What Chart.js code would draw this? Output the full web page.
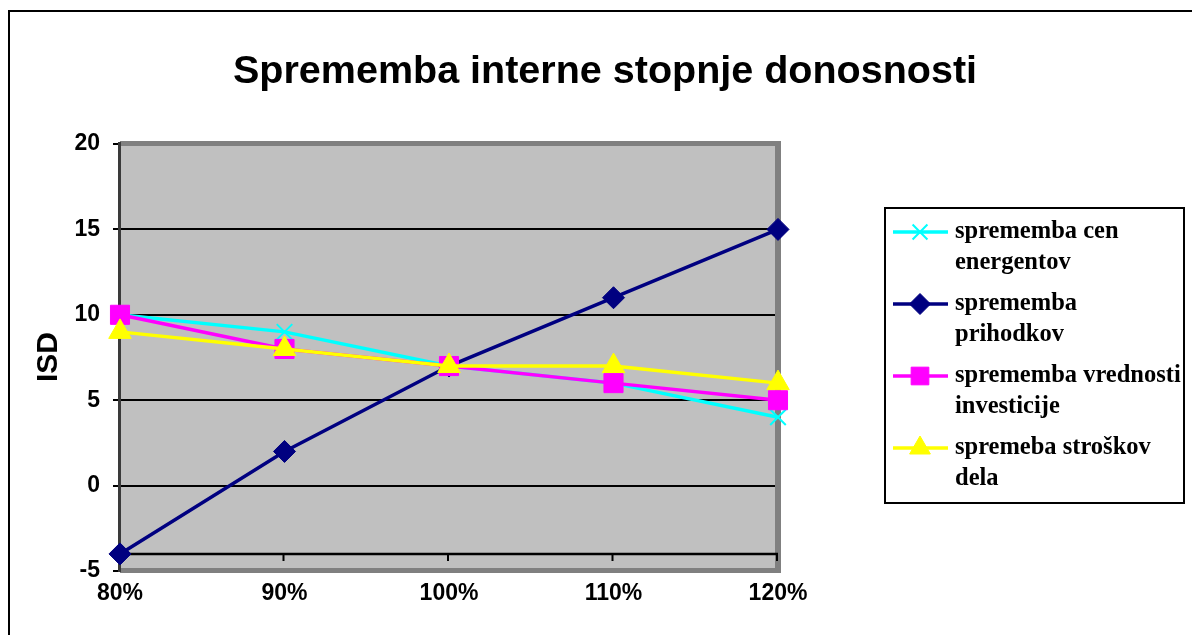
<!DOCTYPE html>
<html>
<head>
<meta charset="utf-8">
<script src="https://cdn.jsdelivr.net/npm/chart.js@4/dist/chart.umd.min.js"></script>
<style>
  html, body { margin: 0; padding: 0; background: #ffffff; }
  #wrap { width: 1192px; height: 635px; position: relative; }
</style>
</head>
<body>
<div id="wrap"><canvas id="c" width="1192" height="635"></canvas></div>
<script>
// Categories (x axis) and series values
const categories = ['80%', '90%', '100%', '110%', '120%'];
const energentiValues = [10, 9, 7, 6, 4];
const prihodkiValues = [-4, 2, 7, 11, 15];
const investicijeValues = [10, 8, 7, 6, 5];
const delaValues = [9, 8, 7, 7, 6];

// Value axis range and tick labels
const yMin = -5;
const yMax = 20;
const yStep = 5;
const xAxisCrossing = -4;

const titleText = 'Sprememba interne stopnje donosnosti';
const yAxisTitle = 'ISD';
const legendLabels = [
  ['sprememba cen', 'energentov'],
  ['sprememba', 'prihodkov'],
  ['sprememba vrednosti', 'investicije'],
  ['spremeba stroškov', 'dela']
];

const SANS = '"Liberation Sans", Arial, sans-serif';
const SERIF = '"Liberation Serif", "Times New Roman", serif';

const seriesStyles = [
  { color: '#00FFFF', pointStyle: 'crossRot', radius: 11, pointBorderWidth: 2, order: 4 },
  { color: '#000080', pointStyle: 'rectRot', radius: 11, pointBorderWidth: 1, order: 3 },
  { color: '#FF00FF', pointStyle: 'rect', radius: 13.5, pointBorderWidth: 1, order: 2 },
  { color: '#FFFF00', pointStyle: 'triangle', radius: 13, pointBorderWidth: 1, order: 1 }
];
const seriesData = [energentiValues, prihodkiValues, investicijeValues, delaValues];

const datasets = seriesData.map((vals, i) => {
  const s = seriesStyles[i];
  return {
    label: legendLabels[i].join(' '),
    data: vals,
    borderColor: s.color,
    backgroundColor: s.color,
    pointBackgroundColor: s.color,
    pointBorderColor: s.color,
    pointBorderWidth: s.pointBorderWidth,
    pointStyle: s.pointStyle,
    pointRadius: s.radius,
    pointHoverRadius: s.radius,
    borderWidth: 3.5,
    tension: 0,
    fill: false,
    clip: false,
    order: s.order
  };
});

// Plot background, 3D-style plot border, horizontal axis line, title, legend
const decorations = {
  id: 'decorations',
  beforeDraw(chart) {
    const ctx = chart.ctx;
    const ca = chart.chartArea;
    ctx.save();
    ctx.fillStyle = '#ffffff';
    ctx.fillRect(0, 0, chart.width, chart.height);
    ctx.fillStyle = '#C0C0C0';
    ctx.fillRect(ca.left, ca.top, ca.right - ca.left, ca.bottom - ca.top);
    ctx.restore();
  },
  beforeDatasetsDraw(chart) {
    const ctx = chart.ctx;
    const ca = chart.chartArea;
    const xs = chart.scales.x;
    const ys = chart.scales.y;
    ctx.save();
    // shaded frame: top, right, bottom
    ctx.fillStyle = '#808080';
    ctx.fillRect(ca.left, ca.top - 3, ca.right - ca.left + 3, 5);
    ctx.fillRect(ca.right - 3, ca.top - 3, 6, ca.bottom - ca.top + 5);
    ctx.fillRect(ca.left, ca.bottom - 3, ca.right - ca.left + 3, 5);
    // value axis line
    ctx.fillStyle = '#3a3a3a';
    ctx.fillRect(ca.left - 2, ca.top - 2, 3, ca.bottom - ca.top + 3);
    // category axis line with tick marks
    const yAxis = Math.round(ys.getPixelForValue(xAxisCrossing));
    ctx.strokeStyle = '#000000';
    ctx.lineWidth = 2.5;
    ctx.beginPath();
    ctx.moveTo(ca.left, yAxis);
    ctx.lineTo(ca.right, yAxis);
    ctx.stroke();
    ctx.lineWidth = 2;
    categories.forEach((c, i) => {
      const px = xs.getPixelForValue(i);
      ctx.beginPath();
      ctx.moveTo(px - 1, yAxis);
      ctx.lineTo(px - 1, yAxis + 7);
      ctx.stroke();
    });
    ctx.restore();
  },
  afterDraw(chart) {
    const ctx = chart.ctx;
    ctx.save();
    // outer chart frame (left and top edges)
    ctx.fillStyle = '#000000';
    ctx.fillRect(8, 10, 2, chart.height - 10);
    ctx.fillRect(8, 10, chart.width - 8, 2);

    // title
    ctx.fillStyle = '#000000';
    ctx.font = 'bold 39.5px ' + SANS;
    ctx.textAlign = 'center';
    ctx.textBaseline = 'alphabetic';
    ctx.fillText(titleText, 605, 83);

    // value axis title
    ctx.save();
    ctx.translate(57, 357);
    ctx.rotate(-Math.PI / 2);
    ctx.font = 'bold 30px ' + SANS;
    ctx.textAlign = 'center';
    ctx.textBaseline = 'alphabetic';
    ctx.fillText(yAxisTitle, 0, 0);
    ctx.restore();

    // legend box
    ctx.lineWidth = 2;
    ctx.strokeStyle = '#000000';
    ctx.strokeRect(885, 208, 299, 295);
    const rowY = [232, 304, 376, 448];
    const lineGap = 31;
    seriesStyles.forEach((s, i) => {
      const y = rowY[i];
      ctx.strokeStyle = s.color;
      ctx.lineWidth = 3.5;
      ctx.beginPath();
      ctx.moveTo(893, y);
      ctx.lineTo(948, y);
      ctx.stroke();
      ctx.fillStyle = s.color;
      ctx.lineWidth = s.pointBorderWidth;
      Chart.helpers.drawPoint(ctx, {
        pointStyle: s.pointStyle,
        radius: s.pointStyle === 'rect' ? 12.5 : (s.pointStyle === 'triangle' ? 12 : 10.5),
        rotation: 0,
        borderWidth: s.pointBorderWidth
      }, 920, y);
      ctx.fillStyle = '#000000';
      ctx.font = 'bold 24.5px ' + SERIF;
      ctx.textAlign = 'left';
      ctx.textBaseline = 'middle';
      legendLabels[i].forEach((t, k) => {
        ctx.fillText(t, 955, y + k * lineGap);
      });
    });
    ctx.restore();
  }
};

new Chart(document.getElementById('c'), {
  type: 'line',
  data: { labels: categories, datasets: datasets },
  options: {
    responsive: false,
    animation: false,
    events: [],
    layout: { padding: { top: 144, right: 414, bottom: 0, left: 0 } },
    plugins: {
      legend: { display: false },
      tooltip: { enabled: false },
      title: { display: false }
    },
    scales: {
      x: {
        type: 'category',
        offset: false,
        grid: { display: false },
        border: { display: false },
        ticks: {
          color: '#000000',
          font: { family: SANS, size: 23, weight: 'bold' },
          padding: 1,
          maxRotation: 0,
          autoSkip: false
        },
        afterFit(scale) { scale.height = 64; }
      },
      y: {
        min: yMin,
        max: yMax,
        grid: {
          color: (c) => (c.tick && (c.tick.value === yMax || c.tick.value === yMin)) ? 'rgba(0,0,0,0)' : '#000000',
          tickColor: '#000000',
          lineWidth: 2,
          tickLength: 7
        },
        border: { display: false },
        ticks: {
          stepSize: yStep,
          color: '#000000',
          font: { family: SANS, size: 23, weight: 'bold' },
          padding: 13
        },
        afterFit(scale) { scale.width = 120; }
      }
    }
  },
  plugins: [decorations]
});
</script>
</body>
</html>
